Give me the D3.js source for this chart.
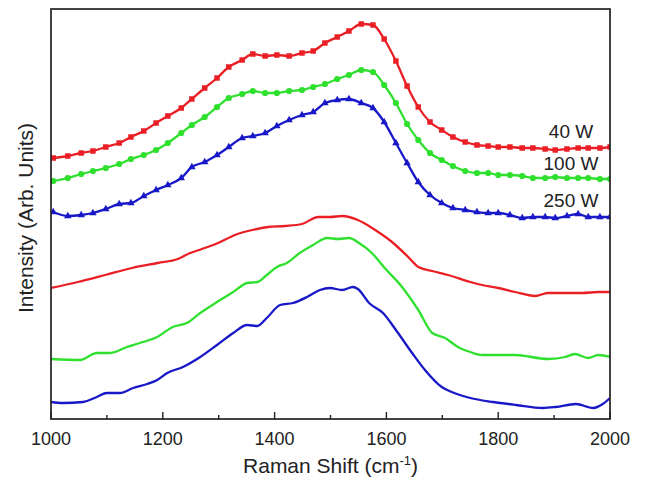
<!DOCTYPE html>
<html>
<head>
<meta charset="utf-8">
<script src="https://cdn.jsdelivr.net/npm/d3@7"></script>
<style>
  body { margin: 0; background: #fff; }
  text { font-family: Arial, "Liberation Sans", Helvetica, sans-serif; fill: #222; }
</style>
</head>
<body>
<div id="chart"></div>
<script>
// marker series (measured with symbols)
const markerShift = [1004, 1030, 1054, 1075, 1098, 1122, 1143, 1166, 1188, 1209, 1233, 1252, 1275, 1297, 1318, 1342,
  1361, 1383, 1404, 1426, 1449, 1469, 1490, 1512, 1533, 1555, 1576, 1596, 1617, 1637, 1657, 1678,
  1699, 1719, 1741, 1762, 1782, 1800, 1821, 1843, 1862, 1884, 1902, 1923, 1943, 1961, 1982, 2000];
const red40 = [261, 263, 266, 268, 272, 276, 282, 288, 296, 303, 311, 320, 331, 341, 352, 359,
  365, 363, 364, 363, 366, 368, 376, 382, 388, 395, 394, 380, 358, 333, 312, 297,
  289, 282, 277, 274, 273, 272, 272, 271, 271, 270, 269, 270, 271, 271, 271, 272];
const green100 = [238, 241, 245, 248, 251, 255, 260, 264, 269, 276, 286, 294, 302, 312, 321, 325,
  328, 326, 326, 328, 329, 332, 335, 340, 344, 349, 347, 334, 316, 295, 279, 266,
  259, 253, 248, 246, 246, 244, 244, 243, 241, 241, 242, 241, 241, 241, 240, 240];
const blue250 = [207, 203, 204, 206, 210, 215, 216, 223, 229, 234, 241, 252, 257, 264, 272, 281,
  283, 286, 293, 299, 304, 307, 316, 319, 320, 316, 311, 297, 276, 256, 237, 224,
  216, 211, 209, 207, 206, 206, 204, 201, 202, 202, 201, 203, 205, 202, 202, 202];

// plain line series
const redLineShift = [1000, 1048, 1097, 1145, 1191, 1227, 1249, 1270, 1299, 1329, 1360, 1388, 1419, 1449, 1478, 1499,
  1521, 1549, 1580, 1610, 1639, 1657, 1682, 1710, 1750, 1771, 1800, 1830, 1866, 1889, 1920, 1950, 1979, 2000];
const redLine = [131, 137, 144, 151, 156, 160, 166, 170, 176, 184, 189, 192, 193, 195, 202, 202,
  203, 199, 189, 177, 162, 152, 148, 144, 137, 134, 131, 127, 123, 126, 126, 126, 127, 127];
const greenLineShift = [1000, 1052, 1082, 1106, 1136, 1159, 1190, 1218, 1243, 1267, 1297, 1326, 1351, 1369, 1386, 1404,
  1422, 1445, 1469, 1494, 1513, 1533, 1551, 1574, 1597, 1628, 1657, 1682, 1705, 1728, 1750, 1771,
  1800, 1830, 1889, 1920, 1937, 1961, 1979, 2000];
const greenLine = [60, 59, 66, 66, 72, 76, 82, 92, 96, 106, 117, 127, 136, 137, 144, 152,
  156, 166, 174, 181, 180, 181, 176, 166, 151, 132, 109, 86, 81, 72, 67, 64,
  64, 64, 60, 62, 65, 61, 64, 62];
const blueLineShift = [1000, 1021, 1057, 1082, 1100, 1123, 1147, 1172, 1190, 1208, 1236, 1267, 1297, 1326, 1351, 1369,
  1386, 1410, 1433, 1458, 1481, 1499, 1521, 1540, 1549, 1569, 1594, 1617, 1646, 1669, 1699, 1717,
  1750, 1791, 1832, 1880, 1903, 1939, 1970, 1987, 2000];
const blueLine = [17, 16, 17, 22, 26, 26, 31, 35, 39, 46, 52, 62, 74, 86, 94, 93,
  101, 114, 116, 122, 129, 131, 129, 132, 130, 116, 106, 89, 66, 49, 32, 27,
  21, 17, 14, 11, 12, 15, 11, 15, 21];

const majorTicks = [1000, 1200, 1400, 1600, 1800, 2000];
const minorTicks = [1100, 1300, 1500, 1700, 1900];

const seriesLabels = [
  { text: "40 W", y: 138 },
  { text: "100 W", y: 170 },
  { text: "250 W", y: 207 }
];

const RED = "#ea1f25", GREEN = "#2fe02f", BLUE = "#1818c8";

const margin = { top: 9, right: 36, bottom: 58, left: 51 };
const width = 646 - margin.left - margin.right;
const height = 477 - margin.top - margin.bottom;

const x = d3.scaleLinear().domain([1000, 2000]).range([0, width]);
const y = d3.scaleLinear().domain([0, 410]).range([height, 0]);

const svg = d3.select("#chart").append("svg")
  .attr("width", 646)
  .attr("height", 477)
  .append("g")
  .attr("transform", `translate(${margin.left},${margin.top})`);

svg.append("clipPath").attr("id", "plot-clip")
  .append("rect").attr("width", width).attr("height", height);

const line = d3.line()
  .x(d => x(d[0]))
  .y(d => y(d[1]))
  .curve(d3.curveMonotoneX);

const plot = svg.append("g").attr("clip-path", "url(#plot-clip)");

function drawLine(xs, ys, color) {
  plot.append("path")
    .datum(xs.map((v, i) => [v, ys[i]]))
    .attr("fill", "none")
    .attr("stroke", color)
    .attr("stroke-width", 2.3)
    .attr("stroke-linejoin", "round")
    .attr("d", line);
}

drawLine(redLineShift, redLine, RED);
drawLine(greenLineShift, greenLine, GREEN);
drawLine(blueLineShift, blueLine, BLUE);

drawLine(markerShift, red40, RED);
drawLine(markerShift, green100, GREEN);
drawLine(markerShift, blue250, BLUE);

// symbols on the upper curves
const sym = [
  { vals: red40, color: RED, type: d3.symbolSquare, size: 30 },
  { vals: green100, color: GREEN, type: d3.symbolCircle, size: 30 },
  { vals: blue250, color: BLUE, type: d3.symbolTriangle, size: 24 }
];
sym.forEach(s => {
  plot.selectAll(null)
    .data(markerShift.map((v, i) => [v, s.vals[i]]))
    .enter().append("path")
    .attr("transform", d => `translate(${x(d[0])},${y(d[1])})`)
    .attr("d", d3.symbol().type(s.type).size(s.size))
    .attr("fill", s.color);
});

// frame
svg.append("rect")
  .attr("width", width)
  .attr("height", height)
  .attr("fill", "none")
  .attr("stroke", "#222")
  .attr("stroke-width", 1.7);

// inward ticks on the bottom axis
svg.selectAll(".major")
  .data(majorTicks)
  .enter().append("line")
  .attr("x1", d => x(d)).attr("x2", d => x(d))
  .attr("y1", height).attr("y2", height - 7)
  .attr("stroke", "#222").attr("stroke-width", 1.4);

svg.selectAll(".minor")
  .data(minorTicks)
  .enter().append("line")
  .attr("x1", d => x(d)).attr("x2", d => x(d))
  .attr("y1", height).attr("y2", height - 4)
  .attr("stroke", "#222").attr("stroke-width", 1.4);

svg.selectAll(".tick-label")
  .data(majorTicks)
  .enter().append("text")
  .attr("x", d => x(d))
  .attr("y", height + 26)
  .attr("text-anchor", "middle")
  .style("font-size", "18px")
  .text(d => d);

// axis titles
const xt = svg.append("text")
  .attr("x", width / 2)
  .attr("y", height + 54)
  .attr("text-anchor", "middle")
  .style("font-size", "21px");
xt.append("tspan").text("Raman Shift (cm");
xt.append("tspan").attr("dy", -8).style("font-size", "13px").text("-1");
xt.append("tspan").attr("dy", 8).text(")");

svg.append("text")
  .attr("transform", `translate(-18,${height / 2 + 4}) rotate(-90)`)
  .attr("text-anchor", "middle")
  .style("font-size", "21px")
  .text("Intensity (Arb. Units)");

svg.selectAll(".series-label")
  .data(seriesLabels)
  .enter().append("text")
  .attr("x", 520)
  .attr("y", d => d.y - margin.top)
  .attr("text-anchor", "middle")
  .style("font-size", "19px")
  .text(d => d.text);
</script>
</body>
</html>
